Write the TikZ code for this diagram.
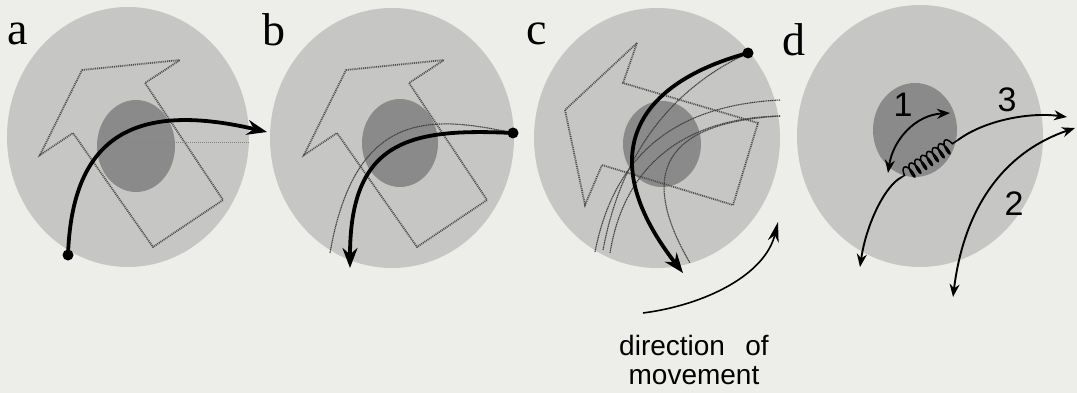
\documentclass[tikz,border=0pt]{standalone}
\usepackage{fontspec}
\setmainfont{Liberation Serif}
\setsansfont{Liberation Sans}
\usetikzlibrary{arrows.meta,decorations.pathmorphing}
\definecolor{bgc}{RGB}{237,237,233}
\definecolor{outerc}{RGB}{198,198,196}
\definecolor{innerc}{RGB}{138,138,138}
\definecolor{dotc}{RGB}{80,80,80}
\begin{document}
\begin{tikzpicture}[x=1pt,y=-1pt,
  cell/.style={fill=outerc},
  nucleus/.style={fill=innerc},
  track/.style={draw=dotc,line width=1.8pt,dash pattern=on 1pt off 0.9pt},
  faint/.style={draw=dotc!70,line width=0.9pt,dash pattern=on 1pt off 1pt},
  thinpath/.style={draw=black!75,line width=1.1pt,dash pattern=on 1.2pt off 0.6pt},
  heavy/.style={line width=3.8pt,-{Stealth[length=20pt,width=15pt]}},
  light/.style={line width=1.9pt,-{Stealth[length=13pt,width=10pt]}},
  twoway/.style={line width=1.9pt,{Stealth[length=13pt,width=10pt]}-{Stealth[length=13pt,width=10pt]}},
  startdot/.style={fill=black},
  letter/.style={font=\fontsize{46}{46}\selectfont,anchor=base,inner sep=0pt},
  digit/.style={font=\sffamily\fontsize{34}{34}\selectfont,inner sep=0pt},
  caption/.style={font=\sffamily\fontsize{28}{30}\selectfont,anchor=base,inner sep=0pt}
]
\useasboundingbox (0,0) rectangle (1077,393);
\fill[bgc] (0,0) rectangle (1077,393);

% cells
\fill[cell] (128,137) ellipse [x radius=121pt, y radius=130pt];
\fill[cell] (392,138) ellipse [x radius=122pt, y radius=130pt];
\fill[cell] (657,138) ellipse [x radius=123pt, y radius=130pt];
\fill[cell] (920,136) ellipse [x radius=123pt, y radius=131pt];
% nuclei
\fill[nucleus] (136,146) ellipse [x radius=39pt, y radius=46pt];
\fill[nucleus] (400,143) ellipse [x radius=38pt, y radius=44pt];
\fill[nucleus] (662,144) ellipse [x radius=39pt, y radius=43pt];
\fill[nucleus] (915,130) ellipse [x radius=42pt, y radius=47pt];

% labels
\node[letter] (la) at (18,45) {a};
\node[letter] (lb) at (274,46) {b};
\node[letter] (lc) at (537,45) {c};
\node[letter] (ld) at (794,56) {d};

% ---- panel a
\draw[track] (82,70) -- (180,60) -- (145,83) -- (223,200) -- (153,247) -- (73,133) -- (40,155) -- cycle;
\coordinate (fa1) at (110,142);
\coordinate (fa2) at (250,142);
\draw[faint] (fa1) -- (fa2);
\coordinate (a0) at (68,255);
\coordinate (a1) at (267,132);
\draw[heavy] (a0) .. controls (72,140) and (130,100) .. (a1);
\fill[startdot] (a0) circle [radius=5.5pt];

% ---- panel b
\draw[track] (346,70) -- (444,60) -- (409,83) -- (487,200) -- (417,247) -- (337,133) -- (304,155) -- cycle;
\coordinate (b0) at (513,133);
\coordinate (b1) at (350,268);
\coordinate (bt) at (330,253);
\draw[thinpath] (b0) .. controls (430,115) and (355,110) .. (bt);
\draw[heavy] (b0) .. controls (410,128) and (350,140) .. (b1);
\fill[startdot] (b0) circle [radius=5.5pt];

% ---- panel c
\draw[track] (637,43) -- (623,83) -- (758,123) -- (733,205) -- (602,165) -- (585,205) -- (565,110) -- cycle;
\coordinate (c0) at (748,53);
\coordinate (c1) at (683,273);
\coordinate (cr1) at (780,100);
\coordinate (cr2) at (780,116);
\coordinate (cb1) at (595,252);
\coordinate (cb2) at (610,253);
\coordinate (cb3) at (603,250);
\coordinate (cb4) at (690,263);
\draw[thinpath] (cr1) .. controls (680,105) and (615,150) .. (cb1);
\draw[thinpath] (cr2) .. controls (690,118) and (625,160) .. (cb2);
\draw[thinpath] (c0) .. controls (665,92) and (620,160) .. (cb3);
\draw[thinpath] (cr2) .. controls (680,122) and (630,160) .. (cb4);
\draw[heavy] (c0) .. controls (630,85) and (595,160) .. (c1);
\fill[startdot] (c0) circle [radius=5.5pt];

% direction of movement
\coordinate (m0) at (643,313);
\coordinate (m1) at (778,222);
\draw[line width=1.6pt,-{Stealth[length=20pt,width=11pt]}] (m0) .. controls (705,305) and (765,275) .. (m1);
\node[caption] (cap1) at (694,355) {direction\hspace{0.45em} of};
\node[caption] (cap2) at (694,384) {movement};

% ---- panel d
\coordinate (s0) at (902,177);
\coordinate (s1) at (958,140);
\draw[line width=1.5pt,decorate,decoration={coil,aspect=0.35,amplitude=7pt,segment length=7pt,pre length=3pt,post length=3pt}] (s0) -- (s1);
\coordinate (d1a) at (888,173);
\coordinate (d1b) at (950,113);
\draw[twoway] (d1a) .. controls (893,140) and (915,115) .. (d1b);
\coordinate (dl) at (860,267);
\draw[light] (s0) .. controls (885,185) and (866,225) .. (dl);
\coordinate (d3) at (1067,117);
\draw[light] (s1) .. controls (985,120) and (1030,112) .. (d3);
\coordinate (d2a) at (953,297);
\coordinate (d2b) at (1075,128);
\draw[twoway] (d2a) .. controls (965,200) and (1010,150) .. (d2b);
\node[digit] (n1) at (903,105) {1};
\node[digit] (n3) at (1007,100) {3};
\node[digit] (n2) at (1014,204) {2};
\end{tikzpicture}
\end{document}
